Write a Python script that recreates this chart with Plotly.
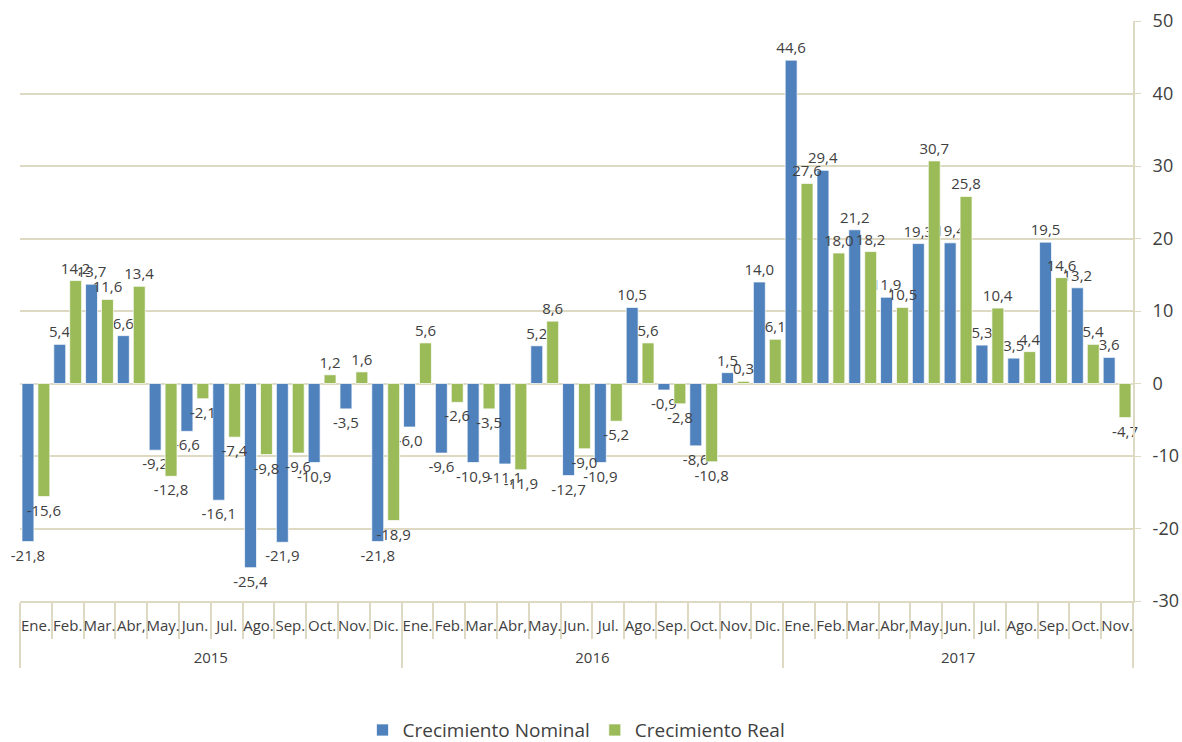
import plotly.graph_objects as go

# months and years for the multicategory axis
years = ["2015"] * 12 + ["2016"] * 12 + ["2017"] * 11
months = ["Ene.", "Feb.", "Mar.", "Abr,", "May.", "Jun.", "Jul.", "Ago.", "Sep.", "Oct.", "Nov.", "Dic."]
month_labels = months * 2 + months[:11]

nominal = [
    -21.8, 5.4, 13.7, 6.6, -9.2, -6.6, -16.1, -25.4, -21.9, -10.9, -3.5, -21.8,
    -6.0, -9.6, -10.9, -11.1, 5.2, -12.7, -10.9, 10.5, -0.9, -8.6, 1.5, 14.0,
    44.6, 29.4, 21.2, 11.9, 19.3, 19.4, 5.3, 3.5, 19.5, 13.2, 3.6,
]
real = [
    -15.6, 14.2, 11.6, 13.4, -12.8, -2.1, -7.4, -9.8, -9.6, 1.2, 1.6, -18.9,
    5.6, -2.6, -3.5, -11.9, 8.6, -9.0, -5.2, 5.6, -2.8, -10.8, 0.3, 6.1,
    27.6, 18.0, 18.2, 10.5, 30.7, 25.8, 10.4, 4.4, 14.6, 5.4, -4.7,
]

y_ticks = [-30, -20, -10, 0, 10, 20, 30, 40, 50]

BLUE = "#4F81BD"
GREEN = "#9BBB59"
GRID = "#DDD9C3"
TEXT = "#404040"

# the year row sits one line lower than plotly puts it by default
year_labels = ["<br>" + y for y in years]


def fmt(v):
    # plain hyphen and decimal comma, like the source
    return f"{v:.1f}".replace(".", ",")


fig = go.Figure()
for name, vals, color in [("Crecimiento Nominal", nominal, BLUE), ("Crecimiento Real", real, GREEN)]:
    fig.add_trace(go.Bar(
        x=[year_labels, month_labels],
        y=vals,
        name=name,
        marker=dict(color=color, line=dict(color="rgba(255,255,255,0.7)", width=1)),
        text=[fmt(v) for v in vals],
        textposition="outside",
        constraintext="none",
        cliponaxis=False,
        textfont=dict(size=15, color=TEXT),
    ))

fig.update_layout(
    width=1182,
    height=742,
    margin=dict(l=20, r=49, t=21, b=141),
    paper_bgcolor="white",
    plot_bgcolor="white",
    font=dict(family="Open Sans", color=TEXT),
    barmode="group",
    bargap=0.0,
    bargroupgap=0.25,
    legend=dict(
        orientation="h",
        x=0.5, xanchor="center",
        yref="container", y=0.016, yanchor="middle",
        font=dict(size=19, color=TEXT),
        itemwidth=30,
    ),
)

fig.update_yaxes(
    range=[-30, 50],
    tickvals=y_ticks,
    ticktext=[str(t) for t in y_ticks],
    side="right",
    automargin=False,
    showgrid=True,
    gridcolor=GRID,
    gridwidth=2,
    zeroline=True,
    zerolinecolor=GRID,
    zerolinewidth=2,
    showline=True,
    linecolor=GRID,
    linewidth=2,
    ticks="outside",
    ticklen=6,
    tickcolor=GRID,
    ticklabelstandoff=8,
    ticklabeloverflow="allow",
    tickfont=dict(size=18, color=TEXT),
)
fig.update_xaxes(
    type="multicategory",
    automargin=False,
    tickangle=0,
    showline=True,
    linecolor=GRID,
    linewidth=2,
    ticks="outside",
    tickson="boundaries",
    ticklen=36,
    tickcolor=GRID,
    tickwidth=2,
    ticklabelstandoff=10,
    showdividers=True,
    dividercolor=GRID,
    dividerwidth=2,
    tickfont=dict(size=15, color=TEXT),
)

# drop the default body margin so the figure fills the window exactly
fig.write_html(
    "out.html",
    config={"displayModeBar": False},
    post_script="document.body.style.margin = '0';",
)
